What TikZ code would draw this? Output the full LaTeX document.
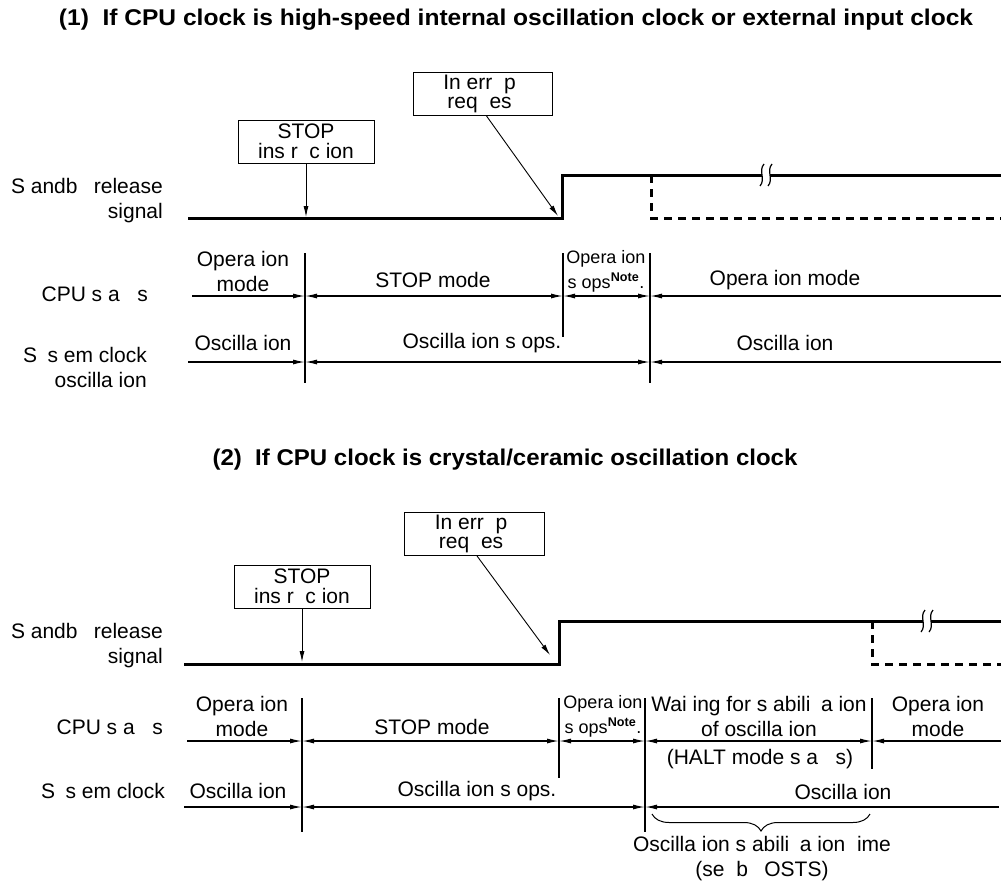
\documentclass[tikz,border=0pt]{standalone}
\usepackage{fontspec}
\setmainfont{Liberation Sans}
\usepackage{graphicx}
\usetikzlibrary{arrows.meta,decorations.pathreplacing}
\begin{document}
\begin{tikzpicture}[x=1pt,y=-1pt,
  lbl/.style={font=\fontsize{21}{25}\selectfont, inner sep=0pt, align=center},
  sml/.style={font=\fontsize{18}{25}\selectfont, inner sep=0pt, align=center},
  boxnode/.style={draw, line width=0.9pt, minimum width=139pt, minimum height=43pt,
    inner sep=0pt, align=center, font=\fontsize{21}{19.5}\selectfont},
  sig/.style={line width=3pt},
  sigdash/.style={line width=3pt, dash pattern=on 8pt off 6pt},
  vbar/.style={line width=1.2pt},
  rowl/.style={line width=1.3pt},
  ptr/.style={line width=0.9pt, -{Latex[length=11pt,width=5pt]}},
  tipr/.style={rowl, -{Latex[length=12pt,width=5pt]}},
  tipl/.style={rowl, {Latex[length=12pt,width=5pt]}-},
  tipb/.style={rowl, {Latex[length=12pt,width=5pt]}-{Latex[length=12pt,width=5pt]}},
  brk/.style={line width=1.2pt}
]
\useasboundingbox (0,0) rectangle (1001,886);

% ---------------- Section 1 ----------------
\node[inner sep=0pt] (t1) at (516,20) {\resizebox{914pt}{16.5pt}{\bfseries (1)\ \ If CPU clock is high-speed internal oscillation clock or external input clock}};

\node[boxnode] (ib1) at (482.5,94) {In\phantom{t}err\phantom{u}p\phantom{t}\\req\phantom{u}es\phantom{t}};
\node[boxnode, minimum width=136pt] (sb1) at (306,141.5) {STOP\\ins\phantom{t}r\phantom{u}c\phantom{t}ion};

\node[lbl, anchor=east, align=right] (sl1) at (163,201) {S\phantom{t}andb\phantom{y} release\\signal};

% signal
\coordinate (s1a) at (188,218);
\coordinate (s1b) at (562,218);
\coordinate (s1c) at (562,175);
\coordinate (s1d) at (762,175);
\coordinate (s1e) at (770,175);
\coordinate (s1f) at (1001,175);
\coordinate (d1a) at (651,175);
\coordinate (d1b) at (651,218);
\coordinate (d1c) at (1001,218);
\draw[sig] (s1a) -- (s1b) -- (s1c) -- (s1d);
\draw[sig] (s1e) -- (s1f);
\draw[brk] (764,164) .. controls (758,171) and (766,179) .. (760,186);
\draw[brk] (772,164) .. controls (766,171) and (774,179) .. (768,186);
\draw[sigdash] (d1a) -- (d1b) -- (d1c);

\coordinate (p1a) at (306,217);
\coordinate (p1b) at (558,216);
\draw[ptr] (sb1.south) -- (p1a);
\draw[ptr] ([xshift=4pt]ib1.south) -- (p1b);

% verticals
\coordinate (v1at) at (305,253); \coordinate (v1ab) at (305,383);
\coordinate (v1bt) at (563,253); \coordinate (v1bb) at (563,337);
\coordinate (v1ct) at (650,253); \coordinate (v1cb) at (650,383);
\draw[vbar] (v1at) -- (v1ab);
\draw[vbar] (v1bt) -- (v1bb);
\draw[vbar] (v1ct) -- (v1cb);

% CPU status row
\coordinate (c1s) at (192,296);
\coordinate (c1a) at (305,296);
\coordinate (c1b) at (563,296);
\coordinate (c1c) at (650,296);
\coordinate (c1e) at (1001,296);
\draw[tipr] (c1s) -- (c1a);
\draw[tipb] (c1a) -- (c1b);
\draw[tipb] (c1b) -- (c1c);
\draw[tipl] (c1c) -- (c1e);

% Oscillation row
\coordinate (o1s) at (188,362);
\coordinate (o1a) at (305,362);
\coordinate (o1c) at (650,362);
\coordinate (o1e) at (1001,362);
\draw[tipr] (o1s) -- (o1a);
\draw[tipb] (o1a) -- (o1c);
\draw[tipl] (o1c) -- (o1e);

\node[lbl, anchor=east] (cl1) at (148,294) {CPU s\phantom{t}a\phantom{tu}s};
\node[lbl, anchor=east, align=right] (ol1) at (147,367) {S\phantom{y}s\phantom{t}em clock\\oscilla\phantom{t}ion};

\node[lbl] (m1a) at (243,271) {Opera\phantom{t}ion\\mode};
\node[lbl] (m1b) at (433,280) {STOP mode};
\node[sml] (m1c) at (606,271) {Opera\phantom{t}ion\\s\phantom{t}ops\textsuperscript{\bfseries Note}.};
\node[lbl] (m1d) at (785,280) {Opera\phantom{t}ion mode};
\node[lbl] (n1a) at (243,343) {Oscilla\phantom{t}ion};
\node[lbl] (n1b) at (482,343) {Oscilla\phantom{t}ion s\phantom{t}ops.};
\node[lbl] (n1c) at (785,343) {Oscilla\phantom{t}ion};

% ---------------- Section 2 ----------------
\node[inner sep=0pt] (t2) at (505,460) {\resizebox{585pt}{16.5pt}{\bfseries (2)\ \ If CPU clock is crystal/ceramic oscillation clock}};

\node[boxnode, minimum width=140pt] (ib2) at (474,534) {In\phantom{t}err\phantom{u}p\phantom{t}\\req\phantom{u}es\phantom{t}};
\node[boxnode, minimum width=136pt] (sb2) at (302,586.5) {STOP\\ins\phantom{t}r\phantom{u}c\phantom{t}ion};

\node[lbl, anchor=east, align=right] (sl2) at (163,646) {S\phantom{t}andb\phantom{y} release\\signal};

\coordinate (s2a) at (184,664);
\coordinate (s2b) at (559,664);
\coordinate (s2c) at (559,621);
\coordinate (s2d) at (923,621);
\coordinate (s2e) at (931,621);
\coordinate (s2f) at (1001,621);
\coordinate (d2a) at (872,621);
\coordinate (d2b) at (872,664);
\coordinate (d2c) at (1001,664);
\draw[sig] (s2a) -- (s2b) -- (s2c) -- (s2d);
\draw[sig] (s2e) -- (s2f);
\draw[brk] (925,610) .. controls (919,617) and (927,625) .. (921,632);
\draw[brk] (933,610) .. controls (927,617) and (935,625) .. (929,632);
\draw[sigdash] (d2a) -- (d2b) -- (d2c);

\coordinate (p2a) at (302,662);
\coordinate (p2b) at (550,655);
\draw[ptr] (sb2.south) -- (p2a);
\draw[ptr] ([xshift=3pt]ib2.south) -- (p2b);

\coordinate (v2at) at (302,698); \coordinate (v2ab) at (302,832);
\coordinate (v2bt) at (559,698); \coordinate (v2bb) at (559,778);
\coordinate (v2ct) at (645,698); \coordinate (v2cb) at (645,832);
\coordinate (v2dt) at (872,698); \coordinate (v2db) at (872,769);
\draw[vbar] (v2at) -- (v2ab);
\draw[vbar] (v2bt) -- (v2bb);
\draw[vbar] (v2ct) -- (v2cb);
\draw[vbar] (v2dt) -- (v2db);

\coordinate (c2s) at (187,741);
\coordinate (c2a) at (302,741);
\coordinate (c2b) at (559,741);
\coordinate (c2c) at (645,741);
\coordinate (c2d) at (872,741);
\coordinate (c2e) at (1001,741);
\draw[tipr] (c2s) -- (c2a);
\draw[tipb] (c2a) -- (c2b);
\draw[tipb] (c2b) -- (c2c);
\draw[tipb] (c2c) -- (c2d);
\draw[tipl] (c2d) -- (c2e);

\coordinate (o2s) at (184,807);
\coordinate (o2a) at (302,807);
\coordinate (o2c) at (645,807);
\coordinate (o2e) at (999,807);
\draw[tipr] (o2s) -- (o2a);
\draw[tipb] (o2a) -- (o2c);
\draw[tipl] (o2c) -- (o2e);

\node[lbl, anchor=east] (cl2) at (163,727) {CPU s\phantom{t}a\phantom{tu}s};
\node[lbl, anchor=east] (ol2) at (165,793) {S\phantom{y}s\phantom{t}em clock};

\node[lbl] (m2a) at (242,716) {Opera\phantom{t}ion\\mode};
\node[lbl] (m2b) at (432,727) {STOP mode};
\node[sml] (m2c) at (603,716) {Opera\phantom{t}ion\\s\phantom{t}ops\textsuperscript{\bfseries Note}.};
\node[lbl] (m2d) at (759,716) {Wai\phantom{t}ing for s\phantom{t}abili\phantom{z}a\phantom{t}ion\\of oscilla\phantom{t}ion};
\node[lbl] (m2h) at (760,759) {(HALT mode s\phantom{t}a\phantom{tu}s)};
\node[lbl] (m2e) at (938,716) {Opera\phantom{t}ion\\mode};
\node[lbl] (n2a) at (238,791) {Oscilla\phantom{t}ion};
\node[lbl] (n2b) at (477,791) {Oscilla\phantom{t}ion s\phantom{t}ops.};
\node[lbl] (n2c) at (843,792) {Oscilla\phantom{t}ion};

\coordinate (bl) at (652,814);
\coordinate (br) at (870,814);
\draw[line width=1pt, decorate, decoration={brace, mirror, amplitude=17pt}] (bl) -- (br);
\node[lbl] (bt) at (762,859) {Oscilla\phantom{t}ion s\phantom{t}abili\phantom{z}a\phantom{t}ion \phantom{t}ime\\(se\phantom{t} b\phantom{y} OSTS)};
\end{tikzpicture}
\end{document}
